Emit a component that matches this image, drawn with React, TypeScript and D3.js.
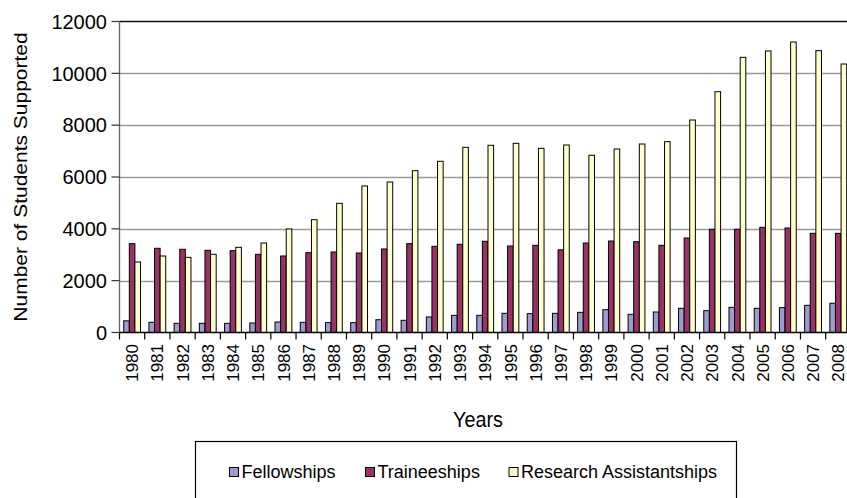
import React from "react";
import * as d3 from "d3";

const years = [
  "1980","1981","1982","1983","1984","1985","1986","1987","1988","1989",
  "1990","1991","1992","1993","1994","1995","1996","1997","1998","1999",
  "2000","2001","2002","2003","2004","2005","2006","2007","2008",
];
const fellowships = [450, 394, 355, 355, 355, 367, 405, 394, 380, 380, 494, 470, 598, 662, 662, 740, 727, 740, 778, 880, 702, 791, 933, 842, 971, 933, 958, 1049, 1127];
const traineeships = [3427, 3249, 3210, 3172, 3157, 3017, 2952, 3080, 3106, 3068, 3222, 3427, 3326, 3403, 3519, 3338, 3364, 3190, 3453, 3530, 3504, 3364, 3646, 3982, 3982, 4059, 4032, 3827, 3827];
const researchAssistantships = [2720, 2952, 2900, 3017, 3287, 3453, 3994, 4352, 4985, 5653, 5807, 6243, 6606, 7146, 7223, 7300, 7107, 7235, 6837, 7081, 7273, 7363, 8199, 9291, 10617, 10862, 11209, 10875, 10360];
const seriesNames = ["Fellowships", "Traineeships", "Research Assistantships"];
const seriesColors = ["#9E9BD0", "#993366", "#FFFFCC"];
const yTicks = [0, 2000, 4000, 6000, 8000, 10000, 12000];

const FONT = "'Liberation Sans', Arial, sans-serif";

export default function App() {
  const W = 847, H = 498;
  const left = 119.5, top = 21.5, bottom = 332.5;
  const bandW = 25.22;
  const right = left + bandW * years.length;

  const x = d3.scaleBand<string>().domain(years).range([left, right]).paddingInner(0).paddingOuter(0);
  const y = d3.scaleLinear().domain([0, 12000]).range([bottom, top]);
  const barW = x.bandwidth() / 4.5;
  const groupOffset = (x.bandwidth() - 3 * barW) / 2;
  const series = [fellowships, traineeships, researchAssistantships];

  const legendX = [229, 365, 508.5];

  return (
    <svg width={W} height={H} style={{ position: "absolute", left: 0, top: 0, background: "#fff" }}
      fontFamily={FONT}>
      {/* gridlines */}
      {yTicks.filter(t => t > 0 && t < 12000).map(t => (
        <line key={t} x1={left} x2={W} y1={Math.round(y(t)) + 0.5} y2={Math.round(y(t)) + 0.5}
          stroke="#9a9a9a" strokeWidth={1.3} />
      ))}
      <line x1={left} x2={W} y1={top} y2={top} stroke="#111" strokeWidth={1.3} />

      {/* bars */}
      {series.map((vals, si) =>
        years.map((yr, i) => {
          const x0 = (x(yr) as number) + groupOffset + si * barW;
          const y0 = y(vals[i]);
          return (
            <rect key={si + "-" + yr} x={x0} y={y0} width={barW} height={bottom - y0}
              fill={seriesColors[si]} stroke="#000" strokeWidth={1} />
          );
        })
      )}

      {/* axes */}
      <line x1={left} x2={left} y1={top} y2={bottom} stroke="#666" strokeWidth={1.3} />
      <line x1={left} x2={W} y1={bottom} y2={bottom} stroke="#000" strokeWidth={1.3} />
      {yTicks.map(t => (
        <g key={"yt" + t}>
          <line x1={left - 8} x2={left} y1={y(t)} y2={y(t)} stroke="#333" strokeWidth={1.2} />
          <text x={107} y={y(t)} dy="0.36em" textAnchor="end" fontSize={20} fill="#000">{t}</text>
        </g>
      ))}
      {years.map((yr) => (
        <line key={"xt" + yr} x1={(x(yr) as number)} x2={(x(yr) as number)} y1={bottom} y2={bottom + 7}
          stroke="#000" strokeWidth={1.2} />
      ))}
      {years.map(yr => {
        const cx = (x(yr) as number) + x.bandwidth() / 2;
        return (
          <text key={"xl" + yr} transform={`translate(${cx},${344}) rotate(-90)`} textAnchor="end"
            dy="0.36em" fontSize={17} fill="#000">{yr}</text>
        );
      })}

      {/* axis titles */}
      <text transform={`translate(20,177) scale(0.9,1) rotate(-90)`} textAnchor="middle" dy="0.36em"
        fontSize={21} fill="#000">Number of Students Supported</text>
      <text transform={`translate(478,426.5) scale(0.9,1)`} textAnchor="middle" fontSize={22} fill="#000">Years</text>

      {/* legend */}
      <rect x={195.5} y={441.5} width={541} height={80} fill="none" stroke="#000" strokeWidth={1.2} />
      {seriesNames.map((n, i) => (
        <g key={n}>
          <rect x={legendX[i] + 0.5} y={467.5} width={9} height={9} fill={seriesColors[i]} stroke="#000" strokeWidth={1} />
          <text x={legendX[i] + 12.5} y={477.5} fontSize={18} fill="#000">{n}</text>
        </g>
      ))}
    </svg>
  );
}
